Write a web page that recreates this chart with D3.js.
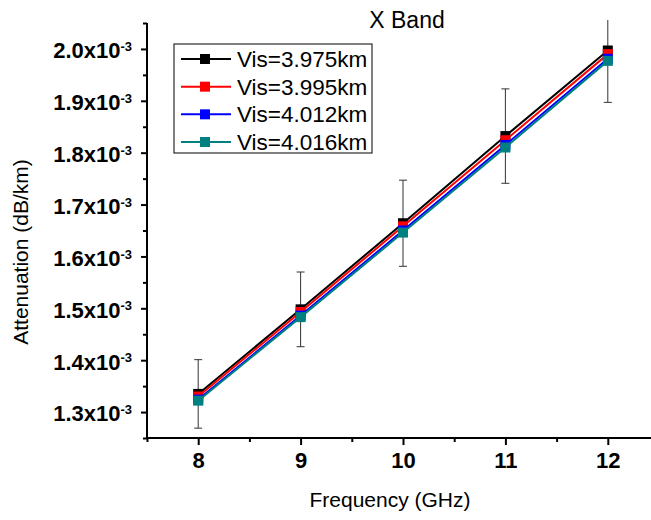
<!DOCTYPE html>
<html>
<head>
<meta charset="utf-8">
<script src="https://cdn.jsdelivr.net/npm/d3@7"></script>
<style>
  body { margin: 0; background: #fff; }
  text { font-family: "Liberation Sans", Arial, sans-serif; }
</style>
</head>
<body>
<script>
var w = 651;
var h = 520;

// data (attenuation in units of 1e-3 dB/km)
var freqs = [8, 9, 10, 11, 12];
var seriesNames = ["Vis=3.975km", "Vis=3.995km", "Vis=4.012km", "Vis=4.016km"];
var seriesColors = ["#000000", "#ff0000", "#0000ff", "#008080"];
var vis3975 = [1.335, 1.498, 1.664, 1.832, 1.997];
var vis3995 = [1.330, 1.493, 1.658, 1.824, 1.990];
var vis4012 = [1.324, 1.486, 1.650, 1.815, 1.981];
var vis4016 = [1.322, 1.483, 1.646, 1.810, 1.977];
var errBars = [0.066, 0.072, 0.083, 0.091, 0.100];
var yTicks = [1.3, 1.4, 1.5, 1.6, 1.7, 1.8, 1.9, 2.0];
var yMinor = [1.25, 1.35, 1.45, 1.55, 1.65, 1.75, 1.85, 1.95, 2.05];
var xTicks = [8, 9, 10, 11, 12];
var xMinor = [7.5, 8.5, 9.5, 10.5, 11.5, 12.5];

var allSeries = [vis3975, vis3995, vis4012, vis4016];

var svg = d3.select("body")
            .append("svg")
              .attr("width", w)
              .attr("height", h);

svg.append("rect").attr("width", w).attr("height", h).attr("fill", "#fff");

var x = d3.scaleLinear().domain([7.5, 12.5]).range([147, 659]);
var y = d3.scaleLinear().domain([1.25, 2.05]).range([438, 23]);

// clip so the top error bar stops at the frame
svg.append("clipPath").attr("id", "plotclip")
  .append("rect").attr("x", 147).attr("y", 20).attr("width", 520).attr("height", 420);

var plot = svg.append("g").attr("clip-path", "url(#plotclip)");

// error bars (on first series)
var eb = plot.selectAll("g.err")
  .data(freqs)
  .enter().append("g").attr("class", "err")
  .attr("stroke", "#333").attr("stroke-width", 1);

eb.append("line")
  .attr("x1", function(d) { return x(d); })
  .attr("x2", function(d) { return x(d); })
  .attr("y1", function(d, i) { return y(vis3975[i] + errBars[i]); })
  .attr("y2", function(d, i) { return y(vis3975[i] - errBars[i]); });
eb.append("line")
  .attr("x1", function(d) { return x(d) - 4; })
  .attr("x2", function(d) { return x(d) + 4; })
  .attr("y1", function(d, i) { return y(vis3975[i] + errBars[i]); })
  .attr("y2", function(d, i) { return y(vis3975[i] + errBars[i]); });
eb.append("line")
  .attr("x1", function(d) { return x(d) - 4; })
  .attr("x2", function(d) { return x(d) + 4; })
  .attr("y1", function(d, i) { return y(vis3975[i] - errBars[i]); })
  .attr("y2", function(d, i) { return y(vis3975[i] - errBars[i]); });

var line = d3.line()
  .x(function(d, i) { return x(freqs[i]); })
  .y(function(d) { return y(d); });

allSeries.forEach(function(s, k) {
  plot.append("path")
    .datum(s)
    .attr("d", line)
    .attr("fill", "none")
    .attr("stroke", seriesColors[k])
    .attr("stroke-width", 2);
  plot.selectAll("rect.m" + k)
    .data(s)
    .enter().append("rect")
    .attr("class", "m" + k)
    .attr("x", function(d, i) { return x(freqs[i]) - 5; })
    .attr("y", function(d) { return y(d) - 5; })
    .attr("width", 10)
    .attr("height", 10)
    .attr("fill", seriesColors[k]);
});

// axes
function supLabel(sel) {
  sel.each(function(d) {
    var t = d3.select(this);
    t.text(null);
    t.append("tspan").text(d3.format(".1f")(d) + "x10");
    t.append("tspan").attr("dy", "-0.55em").attr("font-size", "13px").text("-3");
  });
}

var yAxis = svg.append("g")
  .attr("transform", "translate(147,0)")
  .call(d3.axisLeft(y).tickValues(yTicks).tickSize(6).tickPadding(9));
yAxis.selectAll("text")
  .attr("font-size", "22px").attr("font-weight", "bold").attr("fill", "#000")
  .attr("dy", "0.4em")
  .call(supLabel);

svg.append("g")
  .attr("transform", "translate(147,0)")
  .call(d3.axisLeft(y).tickValues(yMinor).tickSize(4).tickFormat(""));

var xAxis = svg.append("g")
  .attr("transform", "translate(0,438)")
  .call(d3.axisBottom(x).tickValues(xTicks).tickSize(7).tickPadding(7).tickFormat(d3.format("d")));
xAxis.selectAll("text")
  .attr("font-size", "22px").attr("font-weight", "bold").attr("fill", "#000");

svg.append("g")
  .attr("transform", "translate(0,438)")
  .call(d3.axisBottom(x).tickValues(xMinor).tickSize(4).tickFormat(""));

svg.selectAll(".tick line").attr("stroke", "#000").attr("stroke-width", 2);
// replace the domain paths with plain axis lines
svg.selectAll(".domain").remove();
svg.append("line").attr("x1", 147).attr("x2", 147).attr("y1", y(2.05)).attr("y2", y(1.25) + 1)
  .attr("stroke", "#000").attr("stroke-width", 2);
svg.append("line").attr("x1", 146).attr("x2", x(12.5)).attr("y1", 438).attr("y2", 438)
  .attr("stroke", "#000").attr("stroke-width", 2);

// titles
svg.append("text")
  .attr("x", 407).attr("y", 28)
  .attr("text-anchor", "middle")
  .attr("font-size", "23px")
  .text("X Band");

svg.append("text")
  .attr("x", 390).attr("y", 507)
  .attr("text-anchor", "middle")
  .attr("font-size", "21px")
  .text("Frequency (GHz)");

svg.append("text")
  .attr("transform", "translate(28,252) rotate(-90)")
  .attr("text-anchor", "middle")
  .attr("font-size", "21px")
  .text("Attenuation (dB/km)");

// legend
var legend = svg.append("g");
legend.append("rect")
  .attr("x", 174).attr("y", 44).attr("width", 198).attr("height", 109)
  .attr("fill", "#fff").attr("stroke", "#000").attr("stroke-width", 1);

var rowY = d3.scalePoint().domain(seriesNames).range([59, 142]);
seriesNames.forEach(function(name, k) {
  var yy = rowY(name);
  legend.append("line")
    .attr("x1", 181).attr("x2", 231).attr("y1", yy).attr("y2", yy)
    .attr("stroke", seriesColors[k]).attr("stroke-width", 2);
  legend.append("rect")
    .attr("x", 205 - 5).attr("y", yy - 5).attr("width", 10).attr("height", 10)
    .attr("fill", seriesColors[k]);
  legend.append("text")
    .attr("x", 237).attr("y", yy + 8)
    .attr("font-size", "22.5px")
    .text(name);
});
</script>
</body>
</html>
